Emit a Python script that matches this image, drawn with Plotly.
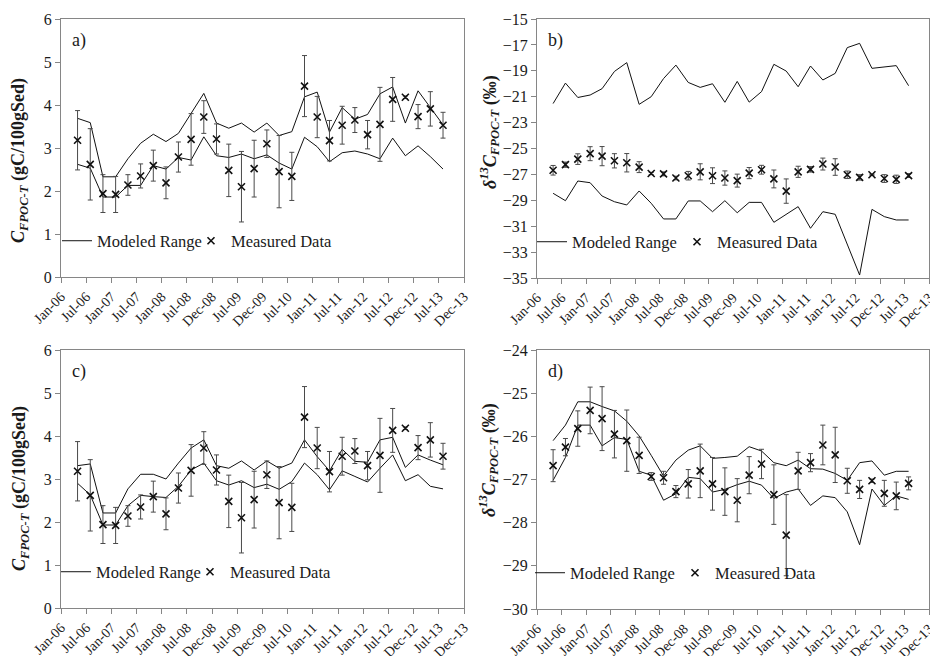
import plotly.graph_objects as go
import pandas as pd

# ---------------- data ----------------
dates = ["2006-05-01", "2006-08-01", "2006-11-01", "2007-02-01", "2007-05-01", "2007-08-01",
         "2007-11-01", "2008-02-01", "2008-05-01", "2008-08-01", "2008-11-01", "2009-02-01",
         "2009-05-01", "2009-08-01", "2009-11-01", "2010-02-01", "2010-05-01", "2010-08-01",
         "2010-11-01", "2011-02-01", "2011-05-01", "2011-08-01", "2011-11-01", "2012-02-01",
         "2012-05-01", "2012-08-01", "2012-11-01", "2013-02-01", "2013-05-01", "2013-08-01"]

tick_labels = ["Jan-06", "Jul-06", "Jan-07", "Jul-07", "Jan-08", "Jul-08", "Dec-08", "Jul-09",
               "Dec-09", "Jul-10", "Jan-11", "Jul-11", "Jan-12", "Jul-12", "Dec-12", "Jul-13", "Dec-13"]

# measured concentration (panels a, c)
meas_conc = [3.18, 2.62, 1.94, 1.92, 2.14, 2.35, 2.59, 2.19, 2.79, 3.20, 3.72, 3.21, 2.48, 2.10, 2.52,
             3.10, 2.45, 2.34, 4.44, 3.72, 3.17, 3.53, 3.65, 3.31, 3.55, 4.13, 4.18, 3.73, 3.91, 3.53]
err_conc = [0.69, 0.83, 0.44, 0.42, 0.24, 0.28, 0.36, 0.37, 0.35, 0.60, 0.38, 0.35, 0.61, 0.82, 0.66,
            0.32, 0.84, 0.56, 0.71, 0.48, 0.47, 0.44, 0.29, 0.33, 0.86, 0.51, 0.03, 0.28, 0.40, 0.30]

# measured d13C (panels b, d)
meas_d13c = [-26.68, -26.25, -25.82, -25.40, -25.59, -25.95, -26.10, -26.44, -26.93, -26.96,
             -27.28, -27.10, -26.80, -27.10, -27.28, -27.48, -26.90, -26.64, -27.35, -28.29,
             -26.80, -26.61, -26.20, -26.43, -27.03, -27.23, -27.03, -27.32, -27.38, -27.09]
err_d13c = [0.37, 0.20, 0.41, 0.54, 0.74, 0.55, 0.71, 0.42, 0.09, 0.15, 0.14, 0.33, 0.62, 0.61, 0.55,
            0.50, 0.43, 0.34, 0.69, 0.94, 0.43, 0.21, 0.46, 0.64, 0.29, 0.21, 0.04, 0.30, 0.32, 0.15]

# panel a modeled range
a_upper = [3.69, 3.59, 2.33, 2.33, 2.75, 3.11, 3.32, 3.15, 3.34, 3.81, 4.27, 3.58, 3.46, 3.58, 3.37,
           3.58, 3.29, 3.38, 4.19, 4.30, 3.37, 3.94, 3.67, 3.78, 4.26, 4.42, 3.58, 4.33, 3.94, 3.54]
a_lower = [2.62, 2.53, 1.86, 1.86, 2.13, 2.13, 2.59, 2.51, 2.78, 2.72, 3.26, 2.82, 2.78, 2.86, 2.75,
           2.84, 2.65, 2.51, 3.25, 3.03, 2.68, 2.89, 2.93, 2.86, 2.75, 3.23, 2.82, 3.05, 2.80, 2.51]

# panel b modeled range
b_upper = [-21.53, -19.95, -21.06, -20.87, -20.38, -19.05, -18.37, -21.59, -21.00, -19.60,
           -18.56, -19.90, -20.28, -20.00, -21.43, -19.82, -21.42, -20.61, -18.50, -19.02,
           -20.23, -18.63, -19.71, -19.20, -17.21, -16.88, -18.81, -18.68, -18.60, -20.15]
b_lower = [-28.46, -29.03, -27.51, -27.64, -28.67, -29.11, -29.36, -28.28, -29.23, -30.44,
           -30.44, -29.05, -29.05, -29.88, -29.03, -29.96, -29.16, -29.16, -30.70, -30.08,
           -29.49, -31.16, -29.88, -30.08, -32.45, -34.77, -29.70, -30.26, -30.52, -30.52]

# panel c modeled range
c_upper = [3.31, 3.35, 2.21, 2.21, 2.77, 3.11, 3.11, 3.00, 3.37, 3.72, 3.91, 3.31, 3.25, 3.42, 3.21,
           3.42, 3.25, 3.37, 3.91, 3.52, 3.19, 3.69, 3.41, 3.39, 3.91, 3.97, 3.27, 3.56, 3.44, 3.33]
c_lower = [2.90, 2.63, 1.93, 1.93, 2.38, 2.62, 2.59, 2.57, 2.83, 3.21, 3.37, 2.96, 2.86, 2.96, 2.80,
           2.88, 2.76, 2.94, 3.37, 3.10, 2.75, 3.19, 3.06, 2.93, 3.25, 3.56, 2.96, 3.10, 2.83, 2.77]

# panel d modeled range
d_upper = [-26.10, -25.74, -25.20, -25.20, -25.31, -25.41, -25.65, -25.99, -26.44, -26.92,
           -26.55, -26.32, -26.22, -26.51, -26.49, -26.46, -26.24, -26.34, -26.61, -26.68,
           -26.55, -26.75, -26.76, -26.86, -27.02, -26.61, -26.57, -26.90, -26.81, -26.81]
d_lower = [-27.02, -26.49, -25.74, -25.74, -26.22, -26.03, -26.07, -26.81, -26.90, -27.48,
           -27.33, -26.95, -26.98, -27.29, -27.23, -27.12, -27.04, -27.13, -27.44, -27.29,
           -27.22, -27.60, -27.38, -27.42, -27.75, -28.51, -27.22, -27.60, -27.38, -27.46]

# ---------------- figure ----------------
W, H = 930, 656
FONT = "Liberation Serif, Times New Roman, serif"
AXCOL = "#868686"
TXT = "#1a1a1a"

tickvals = list(pd.date_range("2006-01-01", "2013-12-31", periods=len(tick_labels)))

panels = [
    # (upper, lower, meas, err, yrange, dtick, label, x-domain px, y-domain px,
    #  ytitle, title pos, legend pos, first-entry width)
    (a_upper, a_lower, meas_conc, err_conc, [0, 6], 1, "a)", (61, 464), (19, 277),
     "<b><i>C</i><sub><i>FPOC-T</i></sub> (gC/100gSed)</b>", (20, 161), (57, 241), 89),
    (b_upper, b_lower, meas_d13c, err_d13c, [-35, -15], 2, "b)", (537, 929), (19, 278),
     "<b><i>δ</i><sup><i>13</i></sup><i>C</i><sub><i>FPOC-T</i></sub> (‰)</b>", (490, 132), (532, 242), 100),
    (c_upper, c_lower, meas_conc, err_conc, [0, 6], 1, "c)", (61, 464), (350, 608),
     "<b><i>C</i><sub><i>FPOC-T</i></sub> (gC/100gSed)</b>", (20, 489), (56, 572), 89),
    (d_upper, d_lower, meas_d13c, err_d13c, [-30, -24], 1, "d)", (537, 929), (350, 609),
     "<b><i>δ</i><sup><i>13</i></sup><i>C</i><sub><i>FPOC-T</i></sub> (‰)</b>", (488, 460), (530, 573), 100),
]

fig = go.Figure()
annotations = []
layout = dict(
    width=W, height=H, margin=dict(l=0, r=0, t=0, b=0, autoexpand=False),
    paper_bgcolor="white", plot_bgcolor="white",
    font=dict(family=FONT, size=14, color=TXT),
)

for i, (up, lo, meas, err, yr, dt, lab, xd, yd, ytitle, tpos, lpos, ew) in enumerate(panels, start=1):
    sfx = "" if i == 1 else str(i)
    xa, ya = "x" + sfx, "y" + sfx
    leg = "legend" + sfx
    fig.add_trace(go.Scatter(x=dates, y=up, mode="lines", name="Modeled Range",
                             line=dict(color="#111111", width=1), xaxis=xa, yaxis=ya,
                             legend=leg, showlegend=True, legendwidth=ew))
    fig.add_trace(go.Scatter(x=dates, y=lo, mode="lines", name="Modeled Range",
                             line=dict(color="#111111", width=1), xaxis=xa, yaxis=ya,
                             legend=leg, showlegend=False))
    fig.add_trace(go.Scatter(x=dates, y=meas, mode="markers", name="Measured Data",
                             marker=dict(symbol="x-thin", size=7, color="#111111",
                                         line=dict(color="#111111", width=1.6)),
                             error_y=dict(type="data", array=err, visible=True,
                                          color="#4a4a4a", thickness=1, width=2.5),
                             xaxis=xa, yaxis=ya, legend=leg, showlegend=True))

    layout["xaxis" + sfx] = dict(
        domain=[xd[0] / W, xd[1] / W], anchor=ya, type="date",
        range=["2006-01-01", "2013-12-31"],
        tickmode="array", tickvals=tickvals, ticktext=tick_labels,
        tickangle=-45, tickfont=dict(family=FONT, size=14, color=TXT),
        ticklabeloverflow="allow",
        showline=True, linecolor=AXCOL, linewidth=1.2, mirror=True,
        ticks="outside", ticklen=5, tickcolor=AXCOL, showgrid=False, zeroline=False,
        automargin=False,
    )
    layout["yaxis" + sfx] = dict(
        domain=[1 - yd[1] / H, 1 - yd[0] / H], anchor=xa,
        range=yr, dtick=dt, tick0=yr[0],
        tickfont=dict(family=FONT, size=16, color=TXT),
        showline=True, linecolor=AXCOL, linewidth=1.2, mirror=True,
        ticks="outside", ticklen=5, tickcolor=AXCOL, showgrid=False, zeroline=False,
        automargin=False,
    )
    layout[leg] = dict(
        orientation="h", x=lpos[0] / W, y=1 - lpos[1] / H, xanchor="left", yanchor="middle",
        bgcolor="rgba(0,0,0,0)", font=dict(family=FONT, size=16.5, color=TXT),
        itemwidth=30,
    )
    annotations.append(dict(
        text=lab, xref=xa + " domain", yref=ya + " domain", x=0.022, y=0.965,
        xanchor="left", yanchor="top", showarrow=False,
        font=dict(family=FONT, size=18, color=TXT),
    ))
    annotations.append(dict(
        text=ytitle, xref="paper", yref="paper", x=tpos[0] / W, y=1 - tpos[1] / H,
        xanchor="center", yanchor="middle", textangle=-90, showarrow=False,
        font=dict(family=FONT, size=18, color=TXT),
    ))

layout["annotations"] = annotations
fig.update_layout(**layout)
fig.write_html(
    "out.html",
    config={"displayModeBar": False},
    post_script="document.body.style.margin='0';document.body.style.overflow='hidden';",
)
